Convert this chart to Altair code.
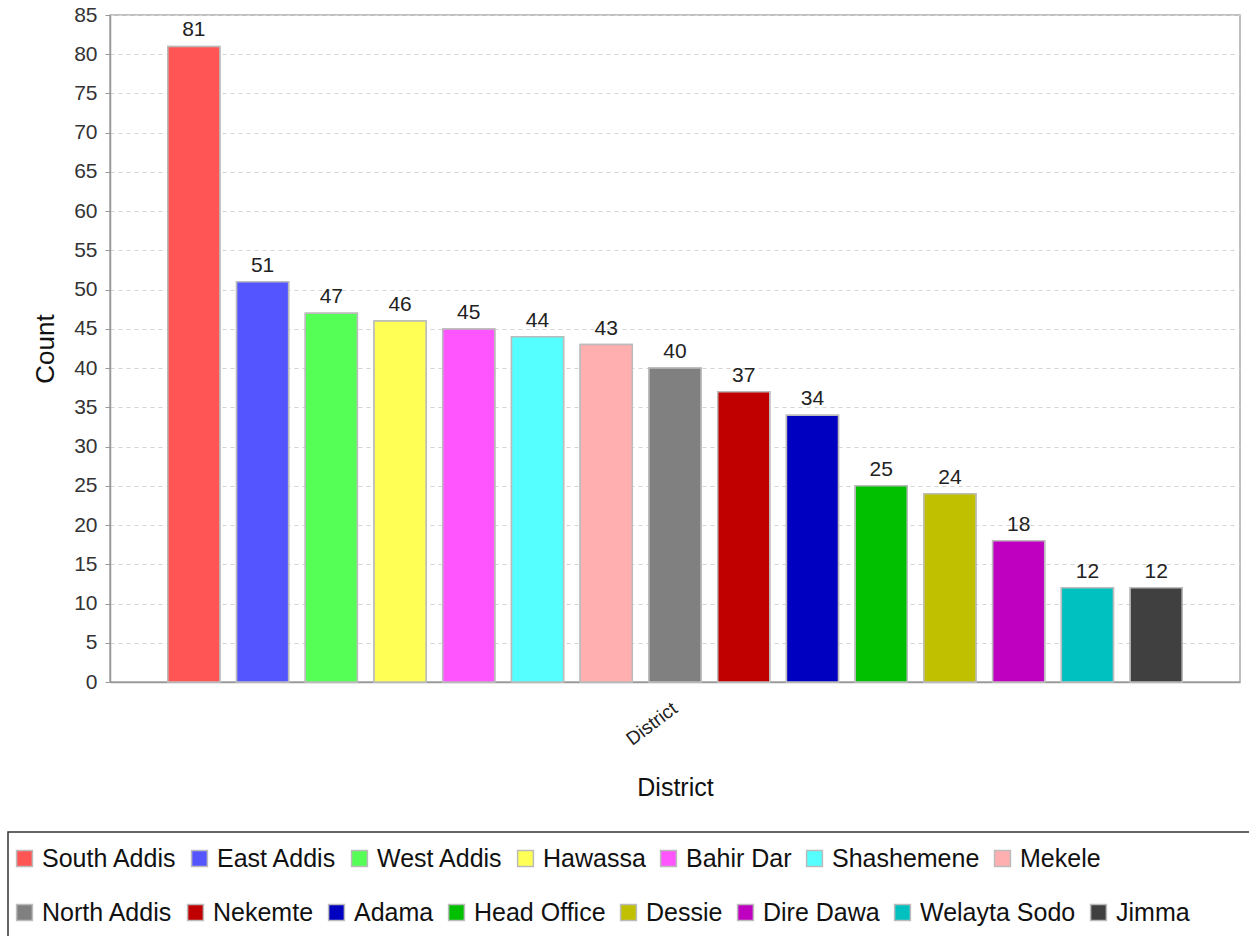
import altair as alt
import pandas as pd

# District counts, in display order
districts = [
    "South Addis", "East Addis", "West Addis", "Hawassa", "Bahir Dar",
    "Shashemene", "Mekele", "North Addis", "Nekemte", "Adama",
    "Head Office", "Dessie", "Dire Dawa", "Welayta Sodo", "Jimma",
]
counts = [81, 51, 47, 46, 45, 44, 43, 40, 37, 34, 25, 24, 18, 12, 12]
colors = [
    "#ff5555", "#5555ff", "#55ff55", "#ffff55", "#ff55ff",
    "#55ffff", "#ffafaf", "#808080", "#c00000", "#0000c0",
    "#00c000", "#c0c000", "#c000c0", "#00c0c0", "#404040",
]
category = "District"
y_ticks = list(range(0, 86, 5))

# the legend is split over two rows
legend_row1 = districts[:7]
legend_row2 = districts[7:]

df = pd.DataFrame({"district": districts, "count": counts, "category": category})

FONT = "Liberation Sans"

x_enc = alt.X(
    "category:N",
    scale=alt.Scale(paddingInner=0, paddingOuter=0.048),
    axis=alt.Axis(
        title="District",
        labelAngle=-37,
        labelAlign="right",
        labelBaseline="middle",
        labelPadding=24,
        labelFontSize=19,
        labelColor="#222222",
        ticks=False,
        domainColor="#999999",
        domainWidth=1.5,
        grid=False,
        titleFontSize=25,
        titleFontWeight="normal",
        titleColor="#111111",
        titleY=105,
        titleBaseline="middle",
    ),
)
xoff_enc = alt.XOffset(
    "district:N",
    sort=districts,
    scale=alt.Scale(paddingInner=0.243, paddingOuter=0.1215),
)
y_enc = alt.Y(
    "count:Q",
    scale=alt.Scale(domain=[0, 85], nice=False),
    axis=alt.Axis(
        title="Count",
        values=y_ticks,
        labelFontSize=21,
        labelColor="#333333",
        labelPadding=8,
        tickSize=5,
        tickColor="#999999",
        domainColor="#999999",
        domainWidth=1.5,
        grid=True,
        gridColor="#d4d4d4",
        gridDash=[4, 4],
        titleFontSize=26,
        titleFontWeight="normal",
        titleColor="#111111",
        titleX=-65,
        titleBaseline="middle",
    ),
)

color_scale = alt.Scale(domain=districts, range=colors)


def legend_for(values, ly):
    return alt.Legend(
        title=None,
        values=values,
        orient="none",
        legendX=-98,
        legendY=ly,
        direction="horizontal",
        columns=len(values),
        gridAlign="none",
        symbolType="square",
        symbolSize=250,
        symbolStrokeColor="#bbbbbb",
        symbolStrokeWidth=1.5,
        labelFontSize=25,
        labelColor="#111111",
        labelOffset=5,
        columnPadding=10,
        padding=0,
    )


base = alt.Chart(df)

# second legend row: bars drawn underneath the visible ones
bars_row2 = base.mark_bar(stroke="#bbbbbb", strokeWidth=1.5).encode(
    x=x_enc,
    xOffset=xoff_enc,
    y=y_enc,
    color=alt.Color("district:N", scale=color_scale, legend=legend_for(legend_row2, 885)),
)

bars = base.mark_bar(stroke="#bbbbbb", strokeWidth=1.5).encode(
    x=x_enc,
    xOffset=xoff_enc,
    y=y_enc,
    color=alt.Color("district:N", scale=color_scale, legend=legend_for(legend_row1, 831)),
)

labels = base.mark_text(
    baseline="alphabetic", dy=-10, fontSize=21, color="#222222", font=FONT
).encode(
    x=x_enc,
    xOffset=xoff_enc,
    y=y_enc,
    text=alt.Text("count:Q"),
)

# frame around the legend
legend_frame = alt.Chart(pd.DataFrame({"k": [0]})).mark_rect(
    fill="transparent", stroke="#333333", strokeWidth=1.5
).encode(
    x=alt.value(-102), x2=alt.value(1170), y=alt.value(817), y2=alt.value(960)
)

chart = (
    alt.layer(bars_row2, bars, labels, legend_frame)
    .resolve_scale(color="independent")
    .resolve_legend(color="independent")
    .properties(
        width=1130,
        height=667,
        autosize=alt.AutoSizeParams(type="none"),
        padding={"left": 110, "top": 15, "right": 9, "bottom": 254},
        background="white",
    )
    .configure(font=FONT)
    .configure_view(stroke="#aaaaaa", strokeWidth=1.5)
)

chart.save("out.html", embed_options={"renderer": "svg", "actions": False})
